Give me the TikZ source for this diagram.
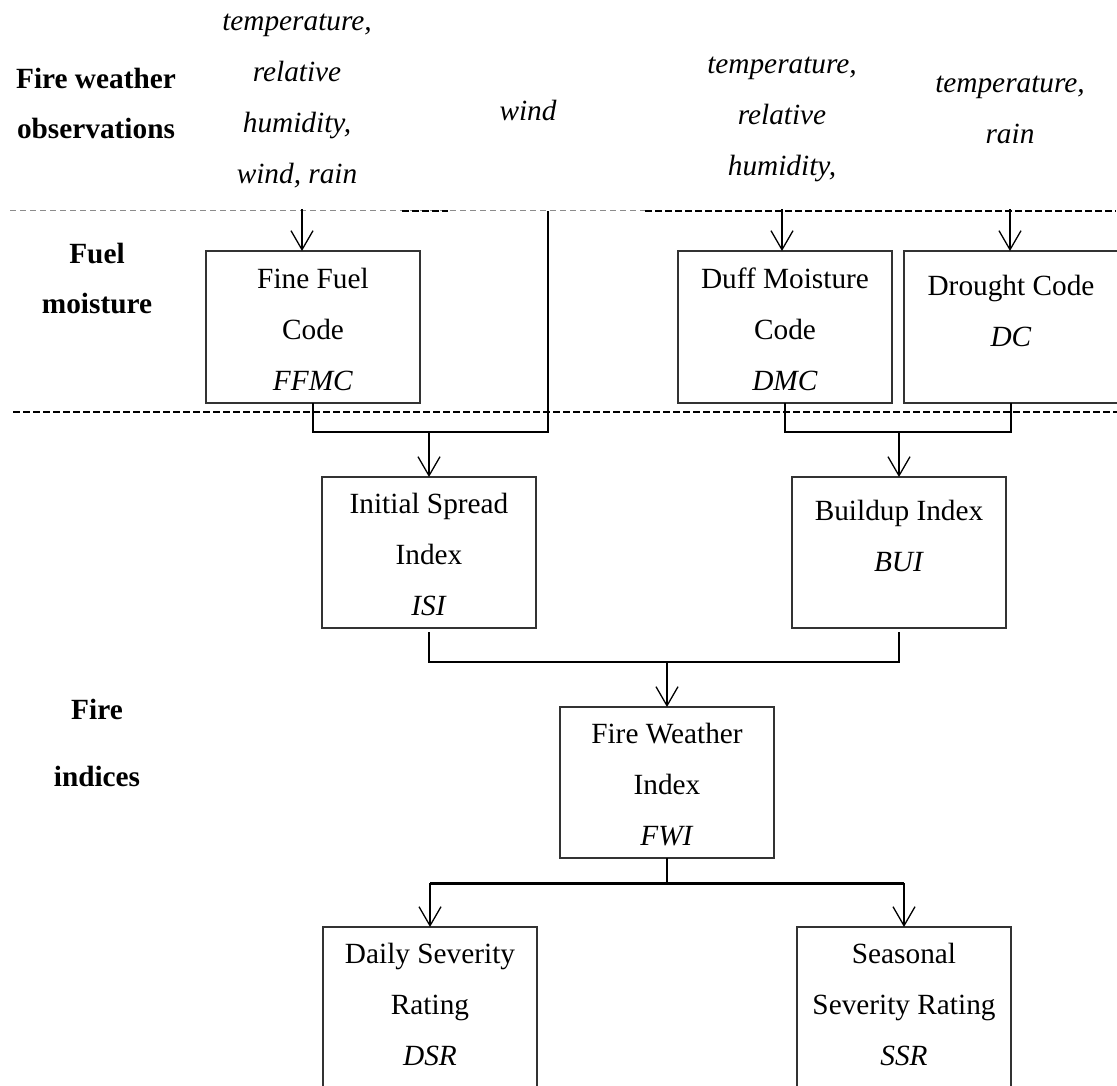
\documentclass[tikz,border=0pt]{standalone}
\usepackage{fontspec}
\setmainfont{Liberation Serif}
\usetikzlibrary{arrows.meta}
\newcommand\fls{\rule{0pt}{20.4pt}}
\begin{document}
\begin{tikzpicture}[x=1pt,y=-1pt,
  box/.style={draw=black!80, line width=1.3pt, minimum width=214pt, inner sep=0pt, outer sep=0pt, anchor=north west},
  txt/.style={inner sep=0pt, align=center, anchor=north, font=\fontsize{29.3}{51}\selectfont},
  hdr/.style={inner sep=0pt, align=center, anchor=north, font=\fontsize{29.3}{50}\selectfont\bfseries},
  obs/.style={inner sep=0pt, align=center, anchor=north, font=\fontsize{29.3}{51}\selectfont\itshape},
  arr/.style={line width=1.3pt, -{Straight Barb[length=19pt,width=22pt,line width=1.3pt]}},
  brk/.style={line width=2.3pt},
  gdash/.style={draw=black!45, line width=1pt, dash pattern=on 6pt off 4pt},
  bdash/.style={draw=black, line width=1.8pt, dash pattern=on 7pt off 3pt},
]
\useasboundingbox (0,0) rectangle (1117,1086);
\clip (0,0) rectangle (1117,1086);
\fill[white] (0,0) rectangle (1117,1086);

% level separators
\draw[gdash] (10,211) -- (645,211);
\draw[bdash] (402,211) -- (448,211);
\draw[bdash] (645,211) -- (1116,211);
\draw[bdash] (13,412) -- (1117,412);

% row headers
\node[hdr] (h1) at (96,67.6) {\fls Fire weather\\observations};
\node[hdr] (h2) at (97,243.1) {\fls Fuel\\moisture};
\node[hdr, font=\fontsize{29.3}{67}\selectfont\bfseries] (h3) at (97,698.6) {\fls Fire\\indices};

% observations
\node[obs] (o1) at (297,9.6) {\fls temperature,\\relative\\humidity,\\wind, rain};
\node[obs] (o2) at (528,99.6) {\fls wind};
\node[obs] (o3) at (782,52.6) {\fls temperature,\\relative\\humidity,};
\node[obs] (o4) at (1010,71.6) {\fls temperature,\\rain};

% boxes
\node[box, minimum height=152pt] (ffmc) at (206,251) {};
\node[box, minimum height=152pt] (dmc) at (678,251) {};
\node[box, minimum height=152pt] (dc) at (904,251) {};
\node[box, minimum height=151pt] (isi) at (322,477) {};
\node[box, minimum height=151pt] (bui) at (792,477) {};
\node[box, minimum height=151pt] (fwi) at (560,707) {};
\node[box, minimum height=200pt] (dsr) at (323,927) {};
\node[box, minimum height=200pt] (ssr) at (797,927) {};

% box texts
\node[txt] (ffmct) at (313,267.6) {\fls Fine Fuel\\Code\\\textit{FFMC}};
\node[txt] (dmct) at (785,267.6) {\fls Duff Moisture\\Code\\\textit{DMC}};
\node[txt] (dct) at (1011,274.6) {\fls Drought Code\\\textit{DC}};
\node[txt] (isit) at (429,492.6) {\fls Initial Spread\\Index\\\textit{ISI}};
\node[txt] (buit) at (899,499.6) {\fls Buildup Index\\\textit{BUI}};
\node[txt] (fwit) at (667,722.6) {\fls Fire Weather\\Index\\\textit{FWI}};
\node[txt] (dsrt) at (430,942.6) {\fls Daily Severity\\Rating\\\textit{DSR}};
\node[txt] (ssrt) at (904,942.6) {\fls Seasonal\\Severity Rating\\\textit{SSR}};

% connectors
\coordinate (s1) at (302,209);
\coordinate (s3) at (782,209);
\coordinate (s4) at (1010,209);
\coordinate (wtop) at (548,211);
\coordinate (wj) at (548,432);
\coordinate (dj) at (0,432);
\coordinate (ij) at (0,662);
\coordinate (fj) at (0,883);

\draw[arr] (s1) -- (s1 |- ffmc.north);
\draw[arr] (s3) -- (s3 |- dmc.north);
\draw[arr] (s4) -- (s4 |- dc.north);

\draw[brk] (ffmc.south) |- (wj) -- (wtop);
\draw[arr] (isi.north |- wj) -- (isi.north);

\draw[brk] (dmc.south) |- (dc.south |- dj) -- (dc.south);
\draw[arr] (bui.north |- dj) -- (bui.north);

\draw[brk] ([yshift=-4pt]isi.south) |- (bui.south |- ij) -- ([yshift=-4pt]bui.south);
\draw[arr] (fwi.north |- ij) -- (fwi.north);

\draw[line width=1.3pt] (fwi.south) -- (fwi.south |- fj);
\draw[line width=3pt] (dsr.north |- fj) -- (ssr.north |- fj);
\draw[arr] (dsr.north |- fj) -- (dsr.north);
\draw[arr] (ssr.north |- fj) -- (ssr.north);
\end{tikzpicture}
\end{document}
